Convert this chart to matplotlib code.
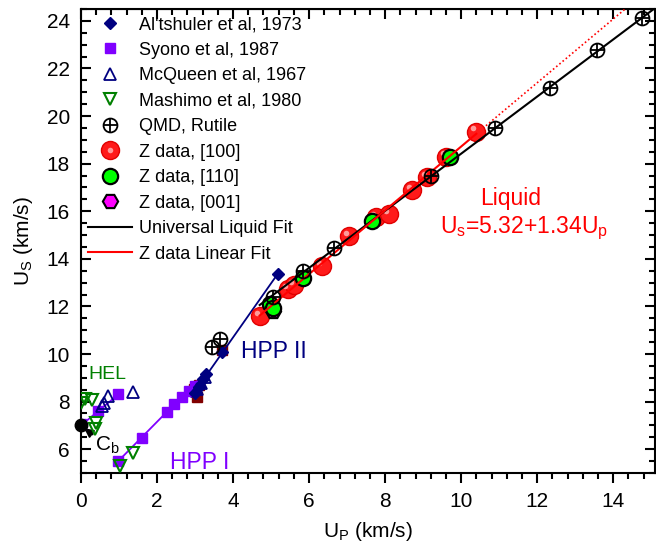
import numpy as np
import matplotlib
matplotlib.use("Agg")
import matplotlib.pyplot as plt
from matplotlib.lines import Line2D
import matplotlib.transforms as mtransforms

# ---- data ----
alt_x = [3.0, 3.1, 3.2, 3.3, 3.72, 5.18]
alt_y = [8.35, 8.6, 8.95, 9.15, 10.1, 13.35]

syono_lo_x = [0.0, 0.45, 0.98]
syono_lo_y = [7.05, 7.6, 8.3]
syono_hi_x = [0.98, 1.6, 2.25, 2.45, 2.65, 2.85, 3.0]
syono_hi_y = [5.5, 6.45, 7.55, 7.9, 8.2, 8.45, 8.65]

mcq_x = [0.55, 0.6, 0.7, 1.38, 3.05, 3.15, 3.25]
mcq_y = [7.8, 7.95, 8.25, 8.4, 8.55, 8.8, 9.05]

mash_x = [0.0, 0.1, 0.28, 0.4, 0.38, 1.03, 1.38]
mash_y = [7.95, 8.1, 8.05, 7.1, 6.85, 5.3, 5.85]

extra_x = [2.98, 3.05, 3.1, 3.72]
extra_y = [8.55, 8.2, 8.7, 10.15]

qmd_x = [3.44, 3.66, 5.04, 5.85, 6.66, 9.21, 10.89, 12.34, 13.57, 14.75]
qmd_y = [10.3, 10.65, 12.4, 13.5, 14.45, 17.5, 19.5, 21.2, 22.76, 24.13]

z100_x = [4.7, 5.45, 5.6, 6.35, 7.05, 7.75, 8.1, 8.7, 9.1, 9.6, 10.4]
z100_y = [11.6, 12.75, 12.9, 13.7, 14.95, 15.75, 15.9, 16.9, 17.45, 18.3, 19.35]

z110_x = [4.98, 5.05, 5.83, 7.65, 9.71]
z110_y = [12.1, 11.95, 13.2, 15.6, 18.3]

z001_x = [5.06]
z001_y = [11.8]

hpp1_lo_x = [0.0, 0.98]
hpp1_lo_y = [7.0, 8.3]
hpp1_hi_x = [0.98, 3.05]
hpp1_hi_y = [5.5, 8.85]
hpp2_x = [2.9, 5.18]
hpp2_y = [8.2, 13.38]

univ_a, univ_b = 6.42, 1.2
z_a, z_b = 5.32, 1.34

cb_x, cb_y = 0.0, 7.0

plt.rcParams["font.family"] = ["Liberation Sans", "DejaVu Sans"]
plt.rcParams["mathtext.fontset"] = "custom"
plt.rcParams["mathtext.rm"] = "Liberation Sans"
plt.rcParams["mathtext.it"] = "Liberation Sans:italic"

fig = plt.figure(figsize=(6.56, 5.53), dpi=100)
ax = fig.add_axes([0.1235, 0.1447, 0.875, 0.839])

navy = "#000080"
purple = "#8000ff"
green = "#008000"

# fit lines
ax.plot(hpp1_lo_x, hpp1_lo_y, color=purple, lw=1.3, zorder=4)
ax.plot(hpp1_hi_x, hpp1_hi_y, color=purple, lw=1.3, zorder=4)
ax.plot(hpp2_x, hpp2_y, color=navy, lw=1.3, zorder=4)

ux = np.array([4.7, 15.1])
ax.plot(ux, univ_a + univ_b * ux, color="black", lw=1.5, zorder=6)
zx = np.array([4.7, 10.4])
ax.plot(zx, z_a + z_b * zx, color="red", lw=1.5, zorder=7)
zx2 = np.array([10.4, (24.6 - z_a) / z_b])
ax.plot(zx2, z_a + z_b * zx2, color="red", lw=1.2, ls=(0, (1, 1.5)), zorder=3)

# markers
ax.plot(extra_x, extra_y, "s", color="#800000", ms=7, ls="none", zorder=3)
h_syono = ax.plot(syono_lo_x + syono_hi_x, syono_lo_y + syono_hi_y, "s",
                  color=purple, ms=7, ls="none", zorder=4)[0]
h_alt = ax.plot(alt_x, alt_y, "D", color=navy, ms=6, ls="none", zorder=5)[0]
h_mcq = ax.plot(mcq_x, mcq_y, "^", mfc="none", mec=navy, mew=1.3, ms=8,
                ls="none", zorder=5)[0]
h_mash = ax.plot(mash_x, mash_y, "v", mfc="none", mec=green, mew=1.5, ms=9,
                 ls="none", zorder=5)[0]

h_z100 = ax.plot(z100_x, z100_y, "o", color="#ff1a1a", mec="#e00000", ms=13,
                 ls="none", zorder=5)[0]
hl = mtransforms.offset_copy(ax.transData, fig=fig, x=-2.2, y=2.2, units="points")
h_z100b = ax.plot(z100_x, z100_y, "o", color="#ff9a9a", mec="none", ms=4,
                  ls="none", zorder=5, transform=hl)[0]

h_z001 = ax.plot(z001_x, z001_y, "H", color="#ff00ff", mec="black", mew=1.5,
                 ms=11, ls="none", zorder=5)[0]
h_z110 = ax.plot(z110_x, z110_y, "o", color="#00ff00", mec="black", mew=1.6,
                 ms=11, ls="none", zorder=5)[0]

h_qo = ax.plot(qmd_x, qmd_y, "o", mfc="none", mec="black", mew=1.3, ms=10,
               ls="none", zorder=8)[0]
h_qp = ax.plot(qmd_x, qmd_y, "+", color="black", mew=1.3, ms=10,
               ls="none", zorder=8)[0]

ax.plot([cb_x], [cb_y], "o", color="black", ms=9, zorder=9, clip_on=False)
ax.annotate("C$_\\mathrm{b}$", xy=(cb_x + 0.08, cb_y - 0.12), xytext=(0.38, 6.15),
            fontsize=15, va="center", ha="left",
            arrowprops=dict(arrowstyle="-|>", color="black", lw=1.2,
                            mutation_scale=14, shrinkA=0, shrinkB=0))

# labels in plot
ax.text(0.2, 9.15, "HEL", color=green, fontsize=14, ha="left", va="center")
ax.text(2.35, 5.45, "HPP I", color=purple, fontsize=16.5, ha="left", va="center")
ax.text(4.2, 10.1, "HPP II", color=navy, fontsize=16.5, ha="left", va="center")
ax.text(11.3, 16.55, "Liquid", color="red", fontsize=16.5, ha="center", va="center")
ax.text(9.45, 15.3, "U$_\\mathrm{s}$=5.32+1.34U$_\\mathrm{p}$", color="red",
        fontsize=16.5, ha="left", va="center")

# axes
ax.set_xlim(0, 15.1)
ax.set_ylim(5, 24.5)
ax.set_xticks(np.arange(0, 15, 2))
ax.set_yticks(np.arange(6, 25, 2))
ax.set_xticks(np.arange(0, 15.1, 0.4), minor=True)
ax.set_yticks(np.arange(5, 24.6, 0.5), minor=True)
ax.tick_params(axis="x", which="both", direction="out", labelsize=15, width=1.5,
               pad=7)
ax.tick_params(axis="y", which="both", direction="in", labelsize=15, width=1.5,
               pad=8)
ax.tick_params(which="major", length=7)
ax.tick_params(which="minor", length=4)
for s in ax.spines.values():
    s.set_linewidth(1.5)

sx = ax.secondary_xaxis("top")
sx.set_xticks(np.arange(0, 15, 2))
sx.set_xticks(np.arange(0, 15.1, 0.4), minor=True)
sx.tick_params(which="both", direction="in", labeltop=False, width=1.5)
sx.tick_params(which="major", length=7)
sx.tick_params(which="minor", length=4)
sy = ax.secondary_yaxis("right")
sy.set_yticks(np.arange(6, 25, 2))
sy.set_yticks(np.arange(5, 24.6, 0.5), minor=True)
sy.tick_params(which="both", direction="in", labelright=False, width=1.5)
sy.tick_params(which="major", length=7)
sy.tick_params(which="minor", length=4)

ax.set_xlabel("U$_\\mathrm{P}$ (km/s)", fontsize=15, labelpad=6)
ax.set_ylabel("U$_\\mathrm{S}$ (km/s)", fontsize=15, labelpad=8)

l_univ = Line2D([], [], color="black", lw=1.5)
l_zfit = Line2D([], [], color="red", lw=1.5)
handles = [h_alt, h_syono, h_mcq, h_mash, (h_qo, h_qp), (h_z100, h_z100b),
           h_z110, h_z001, l_univ, l_zfit]
labels = ["Al'tshuler et al, 1973", "Syono et al, 1987", "McQueen et al, 1967",
          "Mashimo et al, 1980", "QMD, Rutile", "Z data, [100]", "Z data, [110]",
          "Z data, [001]", "Universal Liquid Fit", "Z data Linear Fit"]
ax.legend(handles, labels, loc="upper left", frameon=False, fontsize=13,
          labelspacing=0.47, handlelength=2.4, handletextpad=0.4,
          borderaxespad=0.1, borderpad=0.3)

fig.savefig("out.png", dpi=100)
